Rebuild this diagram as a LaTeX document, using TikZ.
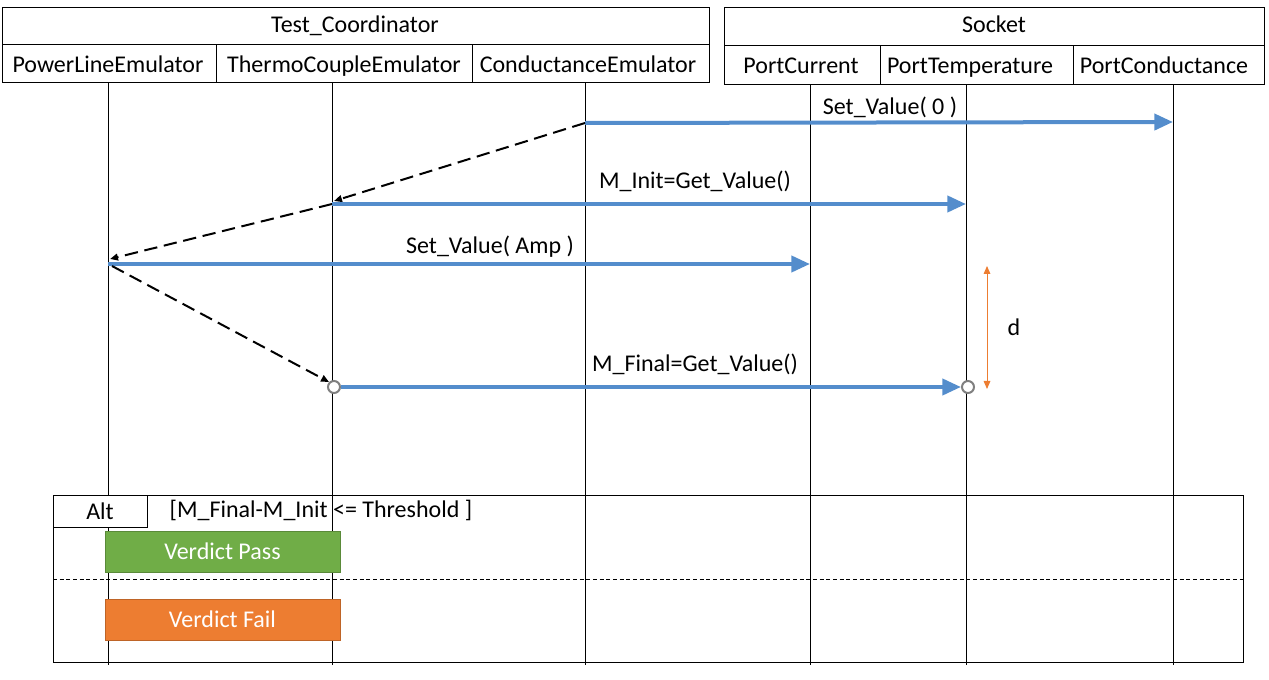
\documentclass[tikz,border=0pt]{standalone}
\usepackage{fontspec}
\setmainfont{Carlito}
\usetikzlibrary{arrows.meta}
\definecolor{msgblue}{RGB}{84,141,204}
\definecolor{passgreen}{RGB}{112,173,71}
\definecolor{failorange}{RGB}{237,125,49}
\definecolor{dotgray}{RGB}{128,128,128}

\begin{document}
\begin{tikzpicture}[x=0.75pt,y=-0.75pt,
    font=\fontsize{18}{22}\selectfont,
    box/.style={draw,line width=0.75pt},
    head/.style={anchor=base},
    life/.style={line width=0.75pt},
    msg/.style={draw=msgblue,line width=3pt,-{Triangle[length=14pt,width=12pt]}},
    reply/.style={dashed,dash pattern=on 10pt off 5pt,line width=1.5pt,-{Triangle[length=6pt,width=5pt]}},
    endpt/.style={circle,draw=dotgray,fill=white,line width=1.5pt,minimum size=9pt,inner sep=0pt},
    verdict/.style={rectangle,draw,minimum width=176pt,minimum height=31pt,text=white,inner sep=0pt}]
  \useasboundingbox (0,0) rectangle (1269,680);
  % headers
  \draw[box] (2,8) rectangle (709,83);
  \draw[box] (2,45) -- (709,45) (216,45) -- (216,83) (472,45) -- (472,83);
  \draw[box] (724,8) rectangle (1264,85);
  \draw[box] (724,46) -- (1264,46) (880,46) -- (880,85) (1073,46) -- (1073,85);
  \node[head] (tc) at (355,33) {Test\_Coordinator};
  \node[head] (ple) at (108,73) {PowerLineEmulator};
  \node[head] (tce) at (344,73) {ThermoCoupleEmulator};
  \node[head] (cde) at (588,73) {ConductanceEmulator};
  \node[head] (sock) at (994,33) {Socket};
  \node[head] (pcur) at (801,74) {PortCurrent};
  \node[head] (ptmp) at (970,74) {PortTemperature};
  \node[head] (pcon) at (1164,74) {PortConductance};
  % lifelines
  \foreach \x/\y in {108/83,332/83,585/83,810/85,966/85,1173/85}
    \draw[life] (\x,\y) -- (\x,665);
  % message points
  \coordinate (c1) at (585,123);
  \coordinate (k1) at (1173,122);
  \coordinate (t1) at (332,204);
  \coordinate (t0) at (334,201);
  \coordinate (p1) at (966,204);
  \coordinate (e1) at (108,264);
  \coordinate (e0) at (110,259);
  \coordinate (e2) at (112,266);
  \coordinate (r1) at (810,264);
  \node[endpt] (t2) at (334,387) {};
  \node[endpt] (p2) at (968,387) {};
  % messages
  \draw[msg] (c1) -- (k1);
  \draw[reply] (c1) -- (t0);
  \draw[msg] (t1) -- (p1);
  \draw[reply] (t1) -- (e0);
  \draw[msg] (e1) -- (r1);
  \draw[reply] (e2) -- (t2.north west);
  \draw[msg] (t2) -- (p2);
  \node (l1) at (890,107) {Set\_Value( 0 )};
  \node (l2) at (695,181) {M\_Init=Get\_Value()};
  \node (l3) at (490,247) {Set\_Value( Amp )};
  \node (l4) at (695,364) {M\_Final=Get\_Value()};
  % delay
  \coordinate (d1) at (987,266);
  \coordinate (d2) at (987,389);
  \draw[failorange,line width=0.75pt,{Triangle[length=6pt,width=5pt]}-{Triangle[length=6pt,width=5pt]}] (d1) -- (d2);
  \node (dl) at (1014,327) {d};
  % alt fragment
  \draw[box,fill=none] (53,495) rectangle (1243,662);
  \draw[box,fill=white] (53,495) rectangle (147,527);
  \node (alt) at (100,511) {Alt};
  \node (cond) at (321,510) {[M\_Final-M\_Init {<=} Threshold ]};
  \draw[line width=0.75pt,dash pattern=on 3pt off 2pt] (53,579) -- (1243,579);
  \node[verdict,fill=passgreen,draw=passgreen!80!black] (pass) at (222.5,551.5) {Verdict Pass};
  \node[verdict,fill=failorange,draw=failorange!80!black] (fail) at (222.5,619.5) {Verdict Fail};
\end{tikzpicture}
\end{document}
